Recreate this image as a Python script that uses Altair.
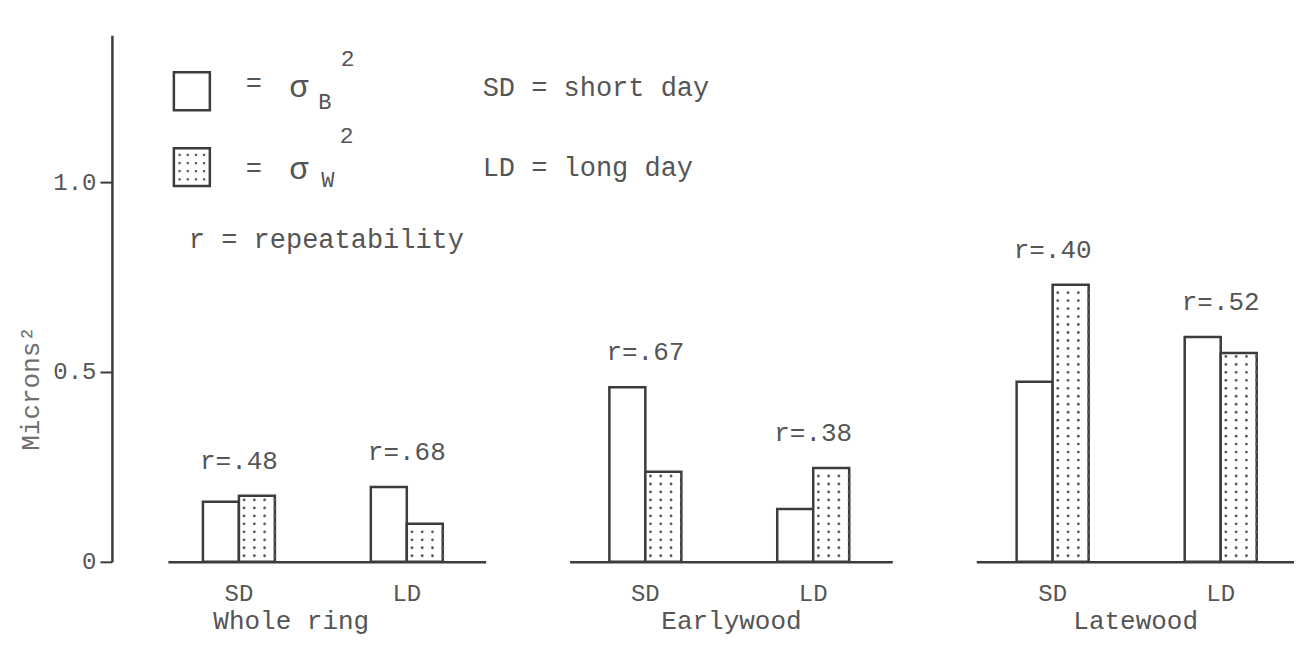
import altair as alt
import pandas as pd

groups = ["Whole ring", "Earlywood", "Latewood"]
conditions = ["SD", "LD"]
components = ["B", "W"]
sigma_b = [0.158, 0.197, 0.460, 0.139, 0.474, 0.592]
sigma_w = [0.174, 0.100, 0.237, 0.247, 0.730, 0.550]
r_labels = ["r=.48", "r=.68", "r=.67", "r=.38", "r=.40", "r=.52"]
y_ticks = [0, 0.5, 1.0]

rows = []
k = 0
for g in groups:
    for c in conditions:
        rows.append(dict(group=g, cond=c, comp="B", value=sigma_b[k], r=r_labels[k]))
        rows.append(dict(group=g, cond=c, comp="W", value=sigma_w[k], r=r_labels[k]))
        k += 1
df = pd.DataFrame(rows)

FONT = "Liberation Mono"
INK = "#3c3c3c"
TXT = "#555555"
DOT = "#5a5a5a"
YMAX = 1.387
H = 527
SUBS = ["B0", "B1", "B2", "B3", "W0", "W1", "W2", "W3"]

# 4x4 stipple glyph for the legend swatch (unit symbol path)
_cells = [-0.72, -0.24, 0.24, 0.72]
_h = 0.065
STIPPLE = " ".join(
    f"M{cx - _h:.3f},{cy - _h:.3f}h{2 * _h:.3f}v{2 * _h:.3f}h{-2 * _h:.3f}Z"
    for cy in _cells for cx in _cells
)


def panel(g, first, width, po, align, title_x=None):
    base = alt.Chart(df).transform_filter(alt.datum.group == g)
    xscale = alt.Scale(domain=conditions, paddingInner=0.5714, paddingOuter=po, align=align)
    axis_kw = dict(
        title=g, labelAngle=0, ticks=False, domainColor=INK, domainWidth=2.5,
        labelFont=FONT, labelFontSize=24, labelColor=TXT, labelPadding=20,
        titleFont=FONT, titleFontSize=26, titleFontWeight="normal", titleColor=TXT,
        titlePadding=2,
    )
    if title_x is not None:
        axis_kw["titleX"] = title_x
    xaxis = alt.Axis(**axis_kw)
    yscale = alt.Scale(domain=[0, YMAX], nice=False, zero=True)
    if first:
        yaxis = alt.Axis(
            values=y_ticks, labelExpr="datum.value == 0 ? '0' : format(datum.value, '.1f')",
            offset=56, tickSize=12, tickColor=INK, tickWidth=2, domainColor=INK, domainWidth=2.5,
            labelFont=FONT, labelFontSize=24, labelColor=TXT, labelPadding=4, grid=False,
            title="Microns²", titleFont=FONT, titleFontSize=26, titleFontWeight="normal",
            titleColor="#6e6e6e", titleX=-81, titleY=353, titleAlign="center",
            titleBaseline="middle", titleAngle=270,
        )
    else:
        yaxis = None

    X = lambda f: alt.X(f, sort=conditions, scale=xscale, axis=xaxis)
    Y = lambda f: alt.Y(f, scale=yscale, axis=yaxis)

    bars = base.mark_bar(stroke=INK, strokeWidth=2.5, fill="white").encode(
        x=X("cond:N"),
        xOffset=alt.XOffset("comp:N", sort=components,
                            scale=alt.Scale(domain=components, paddingInner=0, paddingOuter=0)),
        y=Y("value:Q"),
    )

    dots = base.transform_filter(alt.datum.comp == "W").transform_calculate(
        row="sequence(0.016, datum.value - 0.008, 0.021)"
    ).transform_flatten(["row"]).transform_calculate(
        sub="['W0', 'W1', 'W2', 'W3']"
    ).transform_flatten(["sub"]).mark_point(filled=True, size=8, color=DOT, opacity=1).encode(
        x=X("cond:N"),
        xOffset=alt.XOffset("sub:N", scale=alt.Scale(domain=SUBS, paddingInner=0, paddingOuter=0)),
        y=Y("row:Q"),
    )

    rtext = base.transform_joinaggregate(top="max(value)", groupby=["cond"]).transform_filter(
        alt.datum.comp == "B"
    ).mark_text(font=FONT, fontSize=26, color=TXT, baseline="middle", dy=-35).encode(
        x=X("cond:N"),
        y=Y("top:Q"),
        text="r:N",
    )

    layers = [bars, dots, rtext]

    if first:
        one = alt.Data(values=[{"k": 0}])
        box = lambda y0, y1: alt.Chart(one).mark_rect(fill="white", stroke=INK, strokeWidth=2.5).encode(
            x=alt.value(6), x2=alt.value(42), y=alt.value(y0), y2=alt.value(y1))
        layers += [box(37, 75), box(113, 151)]
        layers.append(
            alt.Chart(one).mark_point(shape=STIPPLE, filled=True, color=DOT, opacity=1,
                                      size=1156, strokeWidth=0).encode(
                x=alt.value(24), y=alt.value(132))
        )

        def t(txt, x, y, size=27, align="left", color=TXT, baseline="middle", **kw):
            return alt.Chart(one).mark_text(text=txt, font=FONT, fontSize=size, align=align,
                                            baseline=baseline, color=color, **kw).encode(
                x=alt.value(x), y=alt.value(y))

        layers += [
            t("=", 86, 49, align="center"),
            t("=", 86, 134, align="center"),
            t("σ", 131, 52, size=32, align="center"),
            t("B", 157, 67, size=22, align="center"),
            t("2", 180, 24, size=23, align="center"),
            t("σ", 131, 134, size=32, align="center"),
            t("W", 160, 145, size=22, align="center"),
            t("2", 179, 101, size=23, align="center"),
            t("SD = short day", 315, 53),
            t("LD = long day", 315, 133),
            t("r = repeatability", 21, 205),
        ]

    return alt.layer(*layers).resolve_scale(xOffset="independent").properties(width=width, height=H)


p1 = panel("Whole ring", True, 318, 0.232, 0.45, title_x=123)
p2 = panel("Earlywood", False, 323, 0.247, 0.48)
p3 = panel("Latewood", False, 318, 0.231, 0.52)

chart = alt.hconcat(p1, p2, p3, spacing=84, bounds="flush").configure_view(
    stroke=None
).properties(
    padding={"left": 10, "top": 27, "right": 0, "bottom": 5},
    background="white",
)

chart.save("out.html", embed_options={"renderer": "svg", "actions": False})
